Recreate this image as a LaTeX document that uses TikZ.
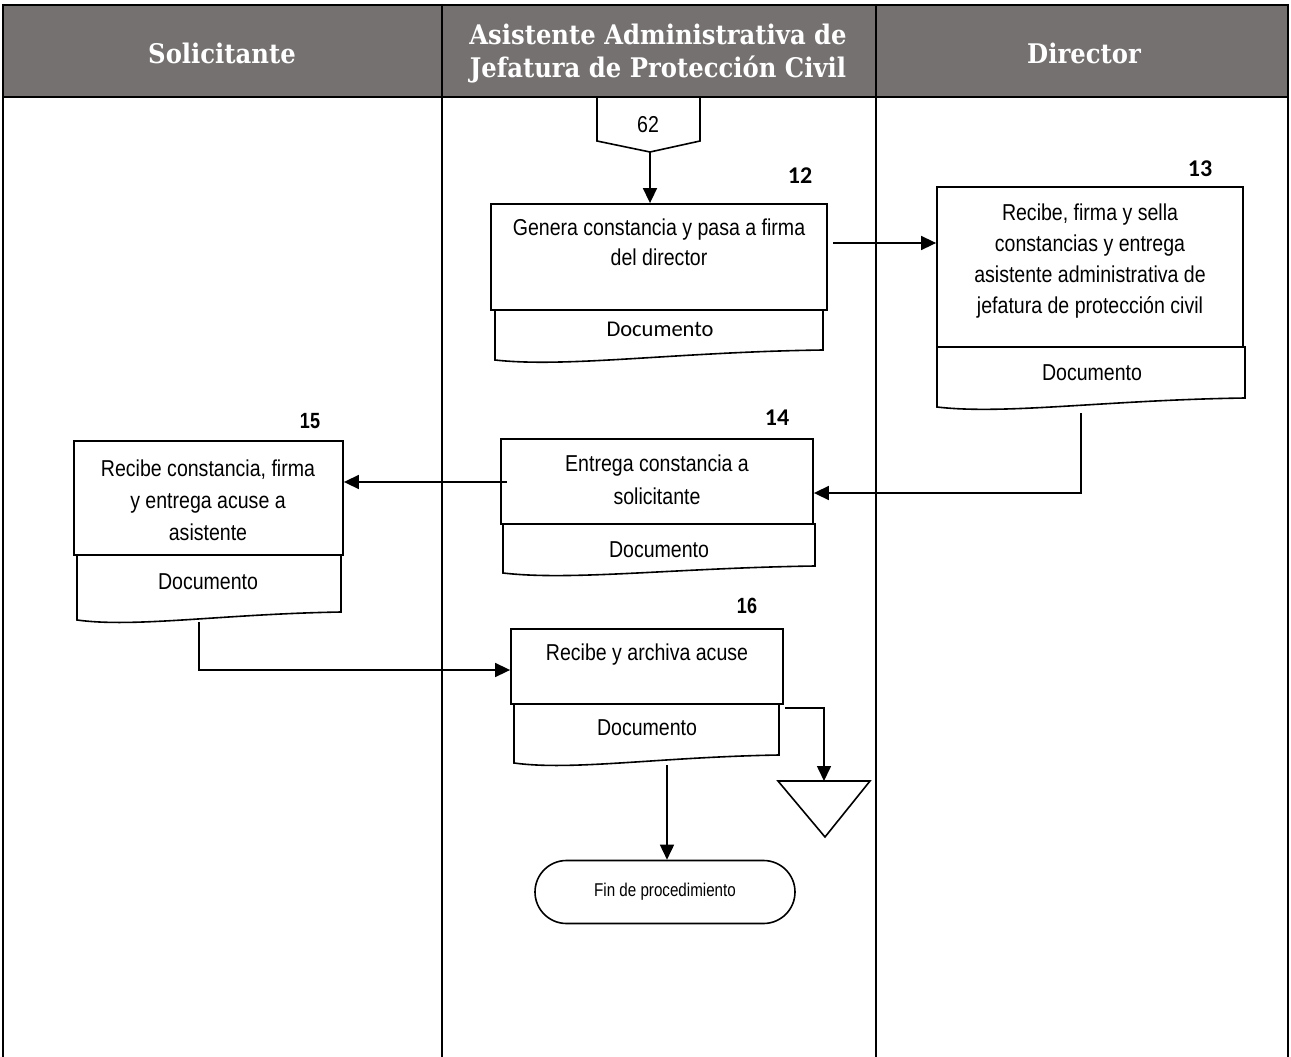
\documentclass[tikz,border=0pt]{standalone}
\usepackage{fontspec}
\setmainfont{Liberation Sans}[FakeStretch=0.85]
\newfontfamily\hdrfont{DejaVu Serif}[FakeStretch=0.9]
\newfontfamily\calfont{Carlito}
\newfontfamily\narrowfont{Liberation Sans}[FakeStretch=0.82]
\usetikzlibrary{arrows.meta,shapes.misc}
\definecolor{hdrgray}{RGB}{118,113,113}
\newcommand\docshape[5]{%
  \draw[docline] (#1,#2) -- (#1,#4) .. controls ({#1+0.22*(#3-#1)},{#4+8}) and ({#3-0.45*(#3-#1)},{#5+2}) .. (#3,#5) -- (#3,#2) -- cycle;}
\tikzset{
  lane/.style={line width=2pt},
  box/.style={draw, line width=1.8pt, rectangle, inner sep=0pt},
  txt/.style={align=center, font=\fontsize{23}{31}\selectfont, inner sep=0pt},
  doctxt/.style={font=\fontsize{23}{25}\selectfont, inner sep=0pt},
  num/.style={font=\calfont\bfseries\fontsize{24}{24}\selectfont, inner sep=0pt},
  nnum/.style={font=\narrowfont\bfseries\fontsize{22}{22}\selectfont, inner sep=0pt},
  hdr/.style={font=\hdrfont\bfseries\fontsize{27}{33}\selectfont, text=white, align=center, inner sep=0pt},
  flow/.style={line width=1.6pt, -{Triangle[length=15pt,width=14pt]}},
  docline/.style={line width=1.6pt},
}
\begin{document}
\begin{tikzpicture}[x=1pt, y=-1pt, line join=miter]
\useasboundingbox (0,0) rectangle (1291,1057);
% header
\fill[hdrgray] (3,5) rectangle (1288,97);
\draw[line width=2.2pt] (2,5) -- (1289,5);
\draw[line width=2.6pt] (2,97) -- (1289,97);
\foreach \xx in {3,442,876,1288} \draw[lane] (\xx,4) -- (\xx,1057);
\node[hdr] (h1) at (222,53) {Solicitante};
\node[hdr] (h2) at (658,54) {Asistente Administrativa de\\Jefatura de Protección Civil};
\node[hdr] (h3) at (1084,53) {Director};
% off-page connector 62
\draw[line width=1.6pt] (597,97) -- (597,141) -- (650,152) -- (700,141) -- (700,97);
\node[font=\fontsize{23}{25}\selectfont, inner sep=0pt] (n62) at (648,125) {62};
\coordinate (p62) at (650,152);
% box 12
\node[box, minimum width=336pt, minimum height=106pt] (b12) at (659,257) {};
\node[txt, font=\fontsize{23}{30}\selectfont] (t12) at (659,242) {Genera constancia y pasa a firma\\del director};
\docshape{495}{310}{823}{360}{350}
\node[inner sep=0pt, font=\calfont\fontsize{22.5}{24}\selectfont] (d12) at (660,329) {Documento};
\node[num] (l12) at (800,176) {12};
% box 13
\node[box, minimum width=306pt, minimum height=160pt] (b13) at (1090,267) {};
\node[txt] (t13) at (1090,261) {Recibe, firma y sella\\constancias y entrega\\asistente administrativa de\\jefatura de protección civil};
\docshape{937}{347}{1245}{407}{398}
\node[doctxt] (d13) at (1092,373) {Documento};
\node[num] (l13) at (1200,169) {13};
% box 14
\node[box, minimum width=312pt, minimum height=85pt] (b14) at (657,481.5) {};
\node[txt, font=\fontsize{23}{33}\selectfont] (t14) at (657,480) {Entrega constancia a\\solicitante};
\docshape{503}{524}{815}{573}{566}
\node[doctxt] (d14) at (659,550) {Documento};
\node[num] (l14) at (777,418) {14};
% box 15
\node[box, minimum width=269pt, minimum height=114pt] (b15) at (208.5,498) {};
\node[txt, font=\fontsize{23}{32}\selectfont] (t15) at (208,500) {Recibe constancia, firma\\y entrega acuse a\\asistente};
\docshape{77}{555}{341}{620}{612}
\node[doctxt] (d15) at (208,582) {Documento};
\node[nnum] (l15) at (310,421) {15};
% box 16
\node[box, minimum width=272pt, minimum height=75pt] (b16) at (647,666.5) {};
\node[txt] (t16) at (647,655) {Recibe y archiva acuse};
\docshape{514}{704}{779}{763}{755}
\node[doctxt] (d16) at (647,728) {Documento};
\node[nnum] (l16) at (747,606) {16};
% end terminator
\node[draw, rounded rectangle, line width=1.6pt, minimum width=260pt, minimum height=63pt, inner sep=0pt, font=\narrowfont\fontsize{18.5}{20}\selectfont] (fin) at (665,892) {Fin de procedimiento};
% triangle (archive)
\draw[line width=1.6pt] (778,781) -- (870,781) -- (825,837) -- cycle;
\coordinate (tri) at (824,781);
% connectors
\draw[flow] (p62) -- (p62 |- b12.north);
\coordinate (a12) at (833,243);
\draw[flow] (a12) -- (a12 -| b13.west);
\coordinate (a13) at (1081,413);
\draw[flow] (a13) |- ([yshift=-11.5pt]b14.east);
\coordinate (a14) at (507,482);
\draw[flow] (a14) -- (a14 -| b15.east);
\coordinate (a15) at (199,622);
\draw[flow] (a15) |- ([yshift=-3.5pt]b16.west);
\coordinate (a16) at (785,708);
\draw[flow] (a16) -| (tri);
\coordinate (a16d) at (667,765);
\draw[flow] (a16d) -- (a16d |- fin.north);
\end{tikzpicture}
\end{document}
